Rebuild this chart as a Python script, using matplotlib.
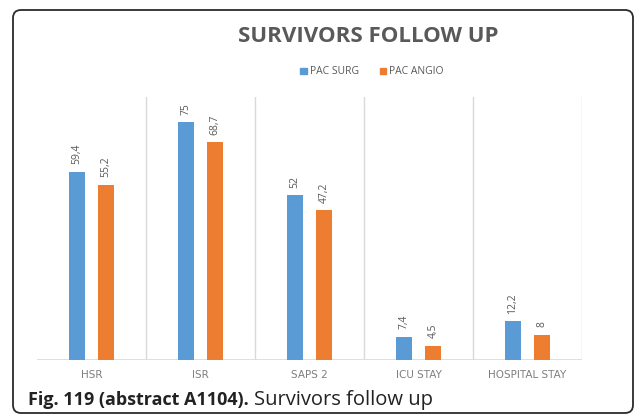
import matplotlib.pyplot as plt
from matplotlib.patches import FancyBboxPatch, Rectangle
import numpy as np

categories = ['HSR', 'ISR', 'SAPS 2', 'ICU STAY', 'HOSPITAL STAY']
pac_surg = [59.4, 75, 52, 7.4, 12.2]
pac_angio = [55.2, 68.7, 47.2, 4.5, 8]
surg_labels = ['59,4', '75', '52', '7,4', '12,2']
angio_labels = ['55,2', '68,7', '47,2', '4,5', '8']

blue = '#5B9BD5'
orange = '#ED7D31'
grey = '#595959'

plt.rcParams['font.family'] = ['Open Sans', 'DejaVu Sans']

fig = plt.figure(figsize=(6.37, 4.16), dpi=100)
W, H = 637, 416

# plot area: baseline at y=360px, top at y=97px, x from 37 to 582
ax = fig.add_axes([37 / W, 1 - 360 / H, (582 - 37) / W, (360 - 97) / H])

x = np.arange(len(categories))
bw = 0.14
off = 0.133
ax.bar(x - off, pac_surg, bw, color=blue, zorder=3)
ax.bar(x + off, pac_angio, bw, color=orange, zorder=3)

for xi, v, lab in zip(x, pac_surg, surg_labels):
    ax.annotate(lab, (xi - off, v), xytext=(0, 5.5), textcoords='offset points',
                rotation=90, ha='center', va='bottom', fontsize=7.5, color=grey)
for xi, v, lab in zip(x, pac_angio, angio_labels):
    ax.annotate(lab, (xi + off, v), xytext=(0, 5.5), textcoords='offset points',
                rotation=90, ha='center', va='bottom', fontsize=7.5, color=grey)

ax.set_xlim(-0.5, 4.5)
ax.set_ylim(0, 83)
for b in np.arange(0.5, 5, 1):
    ax.axvline(b, color='#d9d9d9', lw=1, zorder=1)
ax.axhline(0, color='#d9d9d9', lw=1.2, zorder=2)
for s in ax.spines.values():
    s.set_visible(False)
ax.set_yticks([])
ax.set_xticks(x)
ax.set_xticklabels(categories, fontsize=7.5, color='#7f7f7f', family='DejaVu Sans')
ax.tick_params(axis='x', length=0, pad=7)

# title and legend
fig.text(368 / W, 1 - 36 / H, 'SURVIVORS FOLLOW UP', ha='center', va='center',
         fontsize=16, fontweight='bold', color=grey)
ax.legend(handles=[Rectangle((0, 0), 1, 1, color=blue), Rectangle((0, 0), 1, 1, color=orange)],
          labels=['PAC SURG', 'PAC ANGIO'], loc='center', ncol=2,
          bbox_to_anchor=(372 / W, 1 - 72 / H), bbox_transform=fig.transFigure,
          frameon=False, fontsize=7.5, handlelength=0.6, handleheight=0.6,
          handletextpad=0.3, columnspacing=2.0, labelcolor=grey)

# caption
fig.canvas.draw()
r = fig.canvas.get_renderer()
t1 = fig.text(28 / W, 1 - 400 / H, 'Fig. 119 (abstract A1104).', ha='left', va='center',
              fontsize=13, fontweight='bold', color='#222222')
bb = t1.get_window_extent(renderer=r)
fig.text((bb.x1 + 5) / W, 1 - 400 / H, 'Survivors follow up', ha='left', va='center',
         fontsize=14.5, color='#222222')

# rounded frame
frame = FancyBboxPatch((0.13, 0.03), 6.20, 4.03, boxstyle='round,pad=0,rounding_size=0.08',
                       transform=fig.dpi_scale_trans, fill=False, ec='#2b2b2b', lw=1.3)
fig.patches.append(frame)

fig.savefig('out.png', dpi=100)
